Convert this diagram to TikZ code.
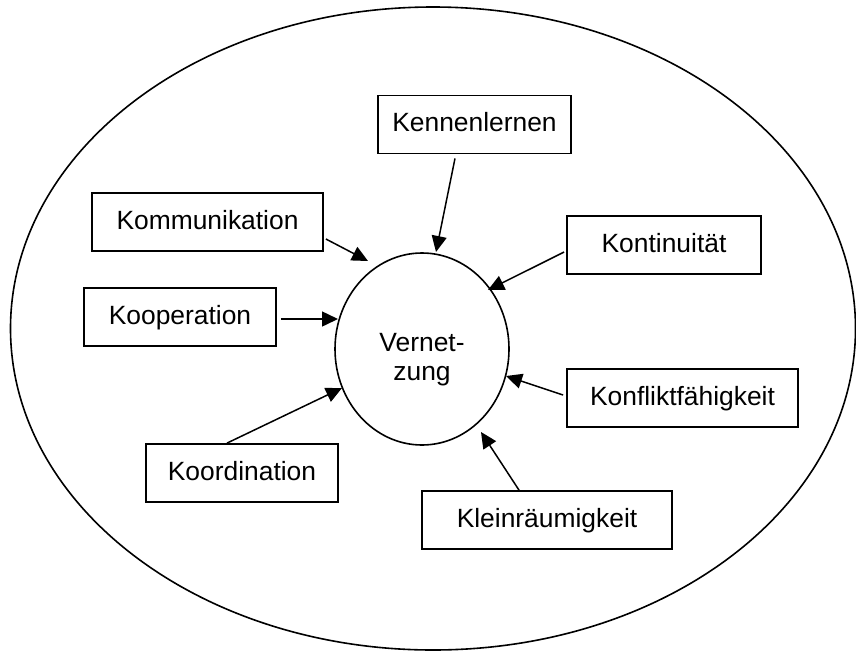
\documentclass[tikz,border=0pt]{standalone}
\usepackage{fontspec}
\setmainfont{Liberation Sans}
\usetikzlibrary{shapes.geometric,arrows.meta}
\begin{document}
\begin{tikzpicture}[x=1pt,y=-1pt,
  lbl/.style={font=\fontsize{26.4}{29}\selectfont},
  box/.style={lbl,draw,line width=1.8pt,minimum height=58pt,inner sep=0pt,text height=19pt,text depth=5pt},
  arr/.style={line width=1.5pt,-{Triangle[length=16pt,width=15pt]}}]
\useasboundingbox (0,0) rectangle (856,651);
\draw[line width=1.6pt] (433,328.5) ellipse [x radius=422.5, y radius=321.5];
\node[draw,ellipse,line width=1.6pt,minimum width=174pt,minimum height=192pt,inner sep=0pt] (v) at (422,349) {};
\node[lbl,align=center,inner sep=0pt] (vt) at (422,359.5) {Vernet-\\zung};
\node[box,minimum width=193pt] (ken) at (474.5,124.5) {Kennenlernen};
\node[box,minimum width=231pt] (kom) at (207.5,222) {Kommunikation};
\node[box,minimum width=192pt] (koop) at (180,317) {Kooperation};
\node[box,minimum width=192pt] (koord) at (242,473) {Koordination};
\node[box,minimum width=194pt] (kont) at (664,245) {Kontinuität};
\node[box,minimum width=231pt] (konf) at (682.5,398) {Konfliktfähigkeit};
\node[box,minimum width=250pt] (klein) at (547,520) {Kleinräumigkeit};
\coordinate (tKen) at (436,252);
\coordinate (tKom) at (368,261);
\coordinate (tKoop) at (338,319);
\coordinate (tKoord) at (342,388);
\coordinate (tKont) at (488,290);
\coordinate (tKonf) at (506,376);
\coordinate (tKlein) at (481,432);
\draw[arr] ([shift={(-19.5,4)}]ken.south) -- (tKen);
\draw[arr] ([shift={(2,17)}]kom.east) -- (tKom);
\draw[arr] ([shift={(4,2)}]koop.east) -- (tKoop);
\draw[arr] ([shift={(-15,0)}]koord.north) -- (tKoord);
\draw[arr] ([shift={(-2,7)}]kont.west) -- (tKont);
\draw[arr] ([shift={(-3,-3)}]konf.west) -- (tKonf);
\draw[arr] ([shift={(-28,0)}]klein.north) -- (tKlein);
\end{tikzpicture}
\end{document}
